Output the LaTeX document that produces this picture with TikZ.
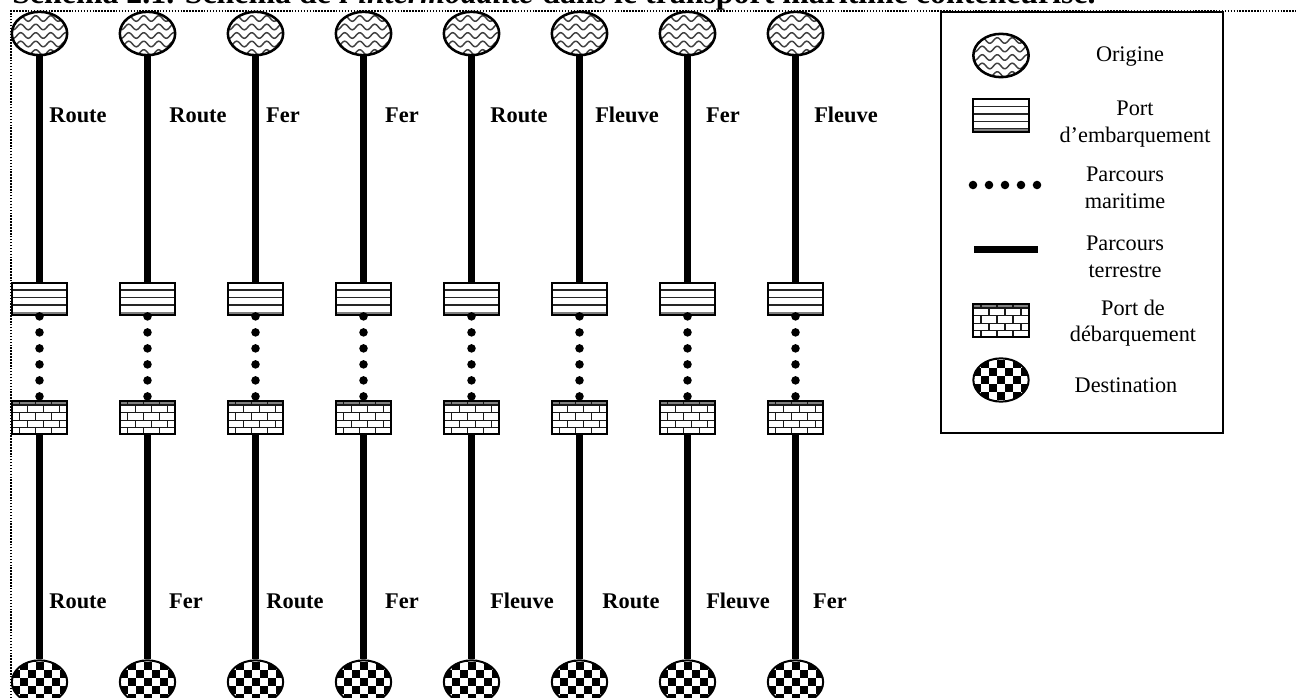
\documentclass[tikz,border=0pt]{standalone}
\usepackage{fontspec}
\setmainfont{Liberation Serif}
\usetikzlibrary{shapes.geometric}

% Fillings, in reference pixels from the centre of the shape
\newcommand{\wavefill}{%
    \begin{scope}[shift={(path picture bounding box.center)}]
        \foreach \dy in {-15,-6.5,2,10.5,19}{
            \draw[black!75, line width=1.1pt] plot[domain=-32:32, samples=50, smooth] (\x, {\dy+2.8*sin(\x*24)});
        }
    \end{scope}}
\newcommand{\stripefill}{%
    \begin{scope}[shift={(path picture bounding box.center)}]
        \foreach \dy in {-9,-1.5,6,13.5}{
            \draw[black!85, line width=1.2pt] (-30,\dy) -- (30,\dy);
        }
        \fill[black!50] (-30,13.5) rectangle (30,18);
    \end{scope}}
\newcommand{\brickfill}{%
    \begin{scope}[shift={(path picture bounding box.center)}]
        \fill[black!50] (-30,-18) rectangle (30,-12.5);
        \foreach \dy in {-12.5,-5,3,10}{
            \draw[black!90, line width=1.2pt] (-30,\dy) -- (30,\dy);
        }
        \foreach \dx in {-20,-4,12}{
            \draw[black!90, line width=1.2pt] (\dx,-18) -- (\dx,-12.5);
            \draw[black!90, line width=1.2pt] (\dx,-5) -- (\dx,3);
            \draw[black!90, line width=1.2pt] (\dx,10) -- (\dx,18);
            \draw[black!90, line width=1.2pt] (\dx+8,-12.5) -- (\dx+8,-5);
            \draw[black!90, line width=1.2pt] (\dx+8,3) -- (\dx+8,10);
        }
    \end{scope}}
\newcommand{\checkerfill}{%
    \begin{scope}[shift={(path picture bounding box.center)}]
        \foreach \i in {-4,...,4}{
            \foreach \j in {-3,...,3}{
                \pgfmathparse{int(mod(\i+\j+8,2))}
                \ifnum\pgfmathresult=0
                    \fill[black] (\i*8-4,\j*8-4) rectangle (\i*8+4,\j*8+4);
                \fi
            }
        }
    \end{scope}}

\tikzset{
    origine/.style={ellipse, draw, line width=1.9pt, inner sep=0pt, minimum width=41.5pt, minimum height=32.5pt, path picture={\wavefill}},
    destination/.style={ellipse, draw, line width=1.5pt, inner sep=0pt, minimum width=41.5pt, minimum height=32.5pt, path picture={\checkerfill}},
    portemb/.style={rectangle, draw, line width=1.6pt, inner sep=0pt, minimum width=41.5pt, minimum height=24.5pt, path picture={\stripefill}},
    portdeb/.style={rectangle, draw, line width=1.6pt, inner sep=0pt, minimum width=41.5pt, minimum height=24.5pt, path picture={\brickfill}},
    terre/.style={line width=5.25pt},
    mer/.style={line width=6.4pt, line cap=round, dash pattern=on 0pt off 12pt},
    mode/.style={font=\fontsize{16.8}{20}\selectfont\bfseries, inner sep=0pt},
    legende/.style={font=\fontsize{16.7}{20}\selectfont, align=center, inner sep=0pt}
}

\begin{document}
\begin{tikzpicture}[x=0.75pt, y=-0.75pt]

    \def\yorig{33.5}
    \def\yemb{299}
    \def\ydeb{417.5}
    \def\ydest{682}
    \def\ymodea{115}
    \def\ymodeb{601}

    \clip (0,0) rectangle (1296,698);

    % Title, cut by the top of the page
    \node[anchor=base west, inner sep=0pt, font=\fontsize{23.9}{28}\selectfont\bfseries] (titre) at (12,4)
        {Schéma 2.1. Schéma de l’\textit{intermodalité} dans le transport maritime conteneurisé.};

    % Dotted frame
    \coordinate (fa) at (11,698);
    \coordinate (fb) at (11,11);
    \coordinate (fc) at (1296,11);
    \draw[line width=1.1pt, dash pattern=on 1.1pt off 1.1pt] (fa) -- (fb) -- (fc);

    % Chains
    \foreach \i/\xc in {1/39.5, 2/147.5, 3/255.5, 4/363.5, 5/471.5, 6/579.5, 7/687.5, 8/795.5}{
        \node[origine] (orig\i) at (\xc,\yorig) {};
        \node[portemb] (emb\i) at (\xc,\yemb) {};
        \node[portdeb] (deb\i) at (\xc,\ydeb) {};
        \node[destination] (dest\i) at (\xc,\ydest) {};
        \draw[terre] (orig\i) -- (emb\i);
        \draw[mer] (emb\i) -- (deb\i);
        \draw[terre] (deb\i) -- (dest\i);
    }

    % Transport modes
    \foreach \i/\xl/\lab in {1/78/Route, 2/198/Route, 3/283/Fer, 4/402/Fer, 5/519/Route, 6/627/Fleuve, 7/723/Fer, 8/846/Fleuve}{
        \node[mode] (modea\i) at (\xl,\ymodea) {\lab};
    }
    \foreach \i/\xl/\lab in {1/78/Route, 2/186/Fer, 3/295/Route, 4/402/Fer, 5/522/Fleuve, 6/631/Route, 7/738/Fleuve, 8/830/Fer}{
        \node[mode] (modeb\i) at (\xl,\ymodeb) {\lab};
    }

    % Legend
    \node[draw, line width=1.3pt, inner sep=0pt, minimum width=211.5pt, minimum height=315.75pt] (cadre) at (1082,222.5) {};
    \node[origine] (lorig) at (1001,55.5) {};
    \node[portemb] (lemb) at (1001,115.5) {};
    \coordinate (lma) at (973,185);
    \coordinate (lmb) at (1045,185);
    \draw[mer] (lma) -- (lmb);
    \coordinate (lta) at (974,250);
    \coordinate (ltb) at (1038,250);
    \draw[terre] (lta) -- (ltb);
    \node[portdeb] (ldeb) at (1001,320.5) {};
    \node[destination] (ldest) at (1001,380) {};

    \node[legende] (torig) at (1130,57) {Origine};
    \node[legende] (temb) at (1135,124) {Port\\d’embarquement};
    \node[legende] (tmar) at (1125,188) {Parcours\\maritime};
    \node[legende] (tter) at (1125,257) {Parcours\\terrestre};
    \node[legende] (tdeb) at (1133,323) {Port de\\débarquement};
    \node[legende] (tdest) at (1126,385) {Destination};

\end{tikzpicture}
\end{document}
